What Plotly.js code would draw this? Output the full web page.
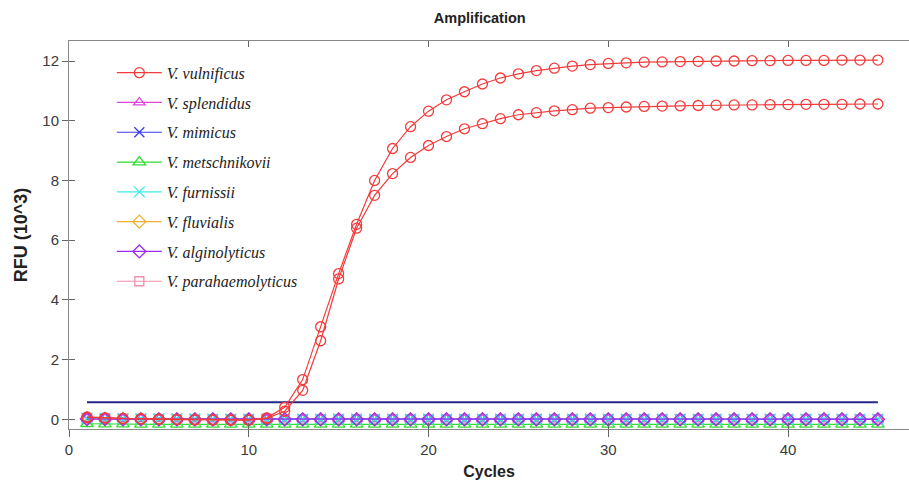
<!DOCTYPE html>
<html>
<head>
<meta charset="utf-8">
<script src="https://cdn.plot.ly/plotly-3.0.1.min.js"></script>
<style>html,body{margin:0;padding:0;background:#fff;}#chart{width:909px;height:482px;}</style>
</head>
<body>
<div id="chart"></div>
<script>
// Cycles 1..45
const cycles = [1,2,3,4,5,6,7,8,9,10,11,12,13,14,15,16,17,18,19,20,21,22,23,24,25,26,27,28,29,30,31,32,33,34,35,36,37,38,39,40,41,42,43,44,45];

// V. vulnificus replicate 1 (higher plateau), RFU x10^3
const vulnificusA = [0.08,0.05,0.03,0.02,0.01,0.00,-0.01,-0.02,-0.02,-0.02,0.05,0.40,1.33,3.10,4.88,6.53,8.00,9.07,9.80,10.32,10.70,10.97,11.23,11.43,11.57,11.68,11.76,11.83,11.88,11.92,11.94,11.96,11.97,11.98,11.99,12.00,12.00,12.01,12.01,12.02,12.02,12.02,12.03,12.03,12.03];
// V. vulnificus replicate 2 (lower plateau)
const vulnificusB = [0.06,0.04,0.02,0.01,0.00,-0.01,-0.02,-0.02,-0.03,-0.03,0.03,0.27,0.97,2.63,4.70,6.40,7.50,8.23,8.77,9.17,9.47,9.73,9.90,10.07,10.20,10.27,10.33,10.37,10.42,10.44,10.46,10.48,10.49,10.50,10.51,10.52,10.53,10.53,10.54,10.54,10.55,10.55,10.55,10.56,10.56];

// Negative samples (flat baselines)
const splendidus = [0.02,0.02,0.01,0.01,0.01,0.00,0.00,0.00,0.00,0.00,0.00,0.00,0.00,0.00,0.00,0.00,0.00,0.00,0.00,0.00,0.00,0.00,0.00,0.00,0.00,0.00,0.00,0.00,0.00,0.00,0.00,0.00,0.00,0.00,0.00,0.00,0.00,0.00,0.00,0.00,0.00,0.00,0.00,0.00,0.00];
const mimicus = [0.03,0.02,0.02,0.01,0.01,0.01,0.00,0.00,0.00,0.00,0.00,0.00,0.00,0.00,0.00,0.00,0.00,0.00,0.00,0.00,0.00,0.00,0.00,0.00,0.00,0.00,0.00,0.00,0.00,0.00,0.00,0.00,0.00,0.00,0.00,0.00,0.00,0.00,0.00,0.00,0.00,0.00,0.00,0.00,0.00];
const metschnikovii = [-0.15,-0.16,-0.16,-0.17,-0.17,-0.17,-0.17,-0.17,-0.17,-0.17,-0.17,-0.17,-0.17,-0.17,-0.17,-0.17,-0.17,-0.17,-0.17,-0.17,-0.17,-0.17,-0.17,-0.17,-0.17,-0.17,-0.17,-0.17,-0.17,-0.17,-0.17,-0.17,-0.17,-0.17,-0.17,-0.17,-0.17,-0.17,-0.17,-0.17,-0.17,-0.17,-0.17,-0.17,-0.17];
const furnissii = [0.04,0.03,0.02,0.02,0.01,0.01,0.01,0.00,0.00,0.00,0.00,0.00,0.00,0.00,0.00,0.00,0.00,0.00,0.00,0.00,0.00,0.00,0.00,0.00,0.00,0.00,0.00,0.00,0.00,0.00,0.00,0.00,0.00,0.00,0.00,0.00,0.00,0.00,0.00,0.00,0.00,0.00,0.00,0.00,0.00];
const fluvialis = [0.02,0.01,0.01,0.01,0.00,0.00,0.00,0.00,0.00,0.00,0.00,0.00,0.00,0.00,0.00,0.00,0.00,0.00,0.00,0.00,0.00,0.00,0.00,0.00,0.00,0.00,0.00,0.00,0.00,0.00,0.00,0.00,0.00,0.00,0.00,0.00,0.00,0.00,0.00,0.00,0.00,0.00,0.00,0.00,0.00];
const alginolyticus = [0.01,0.01,0.00,0.00,0.00,0.00,0.00,0.00,0.00,0.00,0.00,0.00,0.00,0.00,0.00,0.00,0.00,0.00,0.00,0.00,0.00,0.00,0.00,0.00,0.00,0.00,0.00,0.00,0.00,0.00,0.00,0.00,0.00,0.00,0.00,0.00,0.00,0.00,0.00,0.00,0.00,0.00,0.00,0.00,0.00];
const parahaemolyticus = [0.01,0.01,0.01,0.00,0.00,0.00,0.00,0.00,0.00,0.00,0.00,0.00,0.00,0.00,0.00,0.00,0.00,0.00,0.00,0.00,0.00,0.00,0.00,0.00,0.00,0.00,0.00,0.00,0.00,0.00,0.00,0.00,0.00,0.00,0.00,0.00,0.00,0.00,0.00,0.00,0.00,0.00,0.00,0.00,0.00];

// Threshold line level (RFU x10^3)
const thresholdLevel = 0.57;
const xTickVals = [0,10,20,30,40];
const yTickVals = [0,2,4,6,8,10,12];

const XR = [0, 46.73];
const YR = [-0.325, 12.67];

function series(name, y, color, symbol, size, rank, extra) {
  return Object.assign({
    type: 'scatter', mode: 'lines+markers', name: name, x: cycles, y: y,
    legendgroup: name, legendrank: rank,
    line: {color: color, width: 1.2},
    marker: {symbol: symbol, size: size, color: color, line: {color: color, width: 1.3}}
  }, extra || {});
}

const traces = [
  series('<i>V. parahaemolyticus</i>', parahaemolyticus, '#f08fa8', 'square-open', 9, 8),
  series('<i>V. fluvialis</i>', fluvialis, '#f0b030', 'diamond-open', 10, 6),
  series('<i>V. splendidus</i>', splendidus, '#dd44dd', 'triangle-up-open', 10, 2),
  series('<i>V. mimicus</i>', mimicus, '#3a3af0', 'x-thin-open', 10, 3),
  series('<i>V. metschnikovii</i>', metschnikovii, '#30dd30', 'triangle-up-open', 11, 4),
  series('<i>V. furnissii</i>', furnissii, '#40eaea', 'x-thin-open', 11, 5),
  series('<i>V. alginolyticus</i>', alginolyticus, '#9a2cf0', 'diamond-open', 10, 7),
  {type:'scatter', mode:'lines', name:'Threshold', x:[cycles[0], cycles[cycles.length-1]], y:[thresholdLevel, thresholdLevel],
   line:{color:'#26268a', width:2}, showlegend:false, hoverinfo:'skip'},
  series('<i>V. vulnificus</i>', vulnificusB, '#f43a3a', 'circle-open', 10, 1, {showlegend:false, legendgroup:'vulB'}),
  series('<i>V. vulnificus</i>', vulnificusA, '#f43a3a', 'circle-open', 10, 1),
  // helper traces for the inside tick marks
  {type:'scatter', x:[], y:[], xaxis:'x2', yaxis:'y2', showlegend:false, hoverinfo:'skip'},
  {type:'scatter', x:[], y:[], xaxis:'x3', yaxis:'y', showlegend:false, hoverinfo:'skip'}
];

const tickFont = {family:'"Liberation Sans", Arial, sans-serif', size:15, color:'#3a3a3a'};
const layout = {
  width: 909, height: 482,
  margin: {l:69, r:0, t:41, b:53, pad:0},
  paper_bgcolor: '#ffffff', plot_bgcolor: '#ffffff',
  showlegend: true,
  title: {text:'<b>Amplification</b>', x:0.489, xref:'paper', xanchor:'center', y:0.962, yanchor:'middle',
          font:{family:'"Liberation Sans", Arial, sans-serif', size:14.5, color:'#222'}},
  xaxis: {range: XR, tickvals: xTickVals, ticks:'outside', ticklen:7, tickwidth:1, tickcolor:'#666',
          showline:true, linecolor:'#888', linewidth:1, showgrid:false, zeroline:false,
          tickfont: tickFont,
          title:{text:'<b>Cycles</b>', standoff:8, font:{family:'"Liberation Sans", Arial, sans-serif', size:16, color:'#222'}}},
  xaxis2: {range: XR, tickvals: xTickVals, ticks:'inside', ticklen:6, tickwidth:1, tickcolor:'#666',
           overlaying:'x', anchor:'y2', side:'bottom', showline:false, showgrid:false, zeroline:false, showticklabels:false},
  xaxis3: {range: XR, tickvals: xTickVals, ticks:'inside', ticklen:6, tickwidth:1, tickcolor:'#666',
           overlaying:'x', anchor:'y', side:'top', showline:true, linecolor:'#888', linewidth:1,
           showgrid:false, zeroline:false, showticklabels:false},
  yaxis: {range: YR, tickvals: yTickVals, ticks:'outside', ticklen:6, tickwidth:1, tickcolor:'#666',
          showline:true, linecolor:'#888', linewidth:1, showgrid:false, zeroline:false,
          tickfont: tickFont,
          title:{text:'<b>RFU (10^3)</b>', standoff:10, font:{family:'"Liberation Sans", Arial, sans-serif', size:18, color:'#222'}}},
  yaxis2: {range: YR, tickvals: yTickVals, ticks:'inside', ticklen:6, tickwidth:1, tickcolor:'#666',
           overlaying:'y', anchor:'x', side:'left', showline:false, showgrid:false, zeroline:false, showticklabels:false},
  legend: {x:0.051, y:0.962, xanchor:'left', yanchor:'top', bgcolor:'rgba(0,0,0,0)', borderwidth:0,
           tracegroupgap:6, itemwidth:45, traceorder:'grouped',
           font:{family:'"Liberation Serif", "Times New Roman", serif', size:16, color:'#222'}}
};

Plotly.newPlot('chart', traces, layout, {displayModeBar:false, staticPlot:true});
</script>
</body>
</html>
